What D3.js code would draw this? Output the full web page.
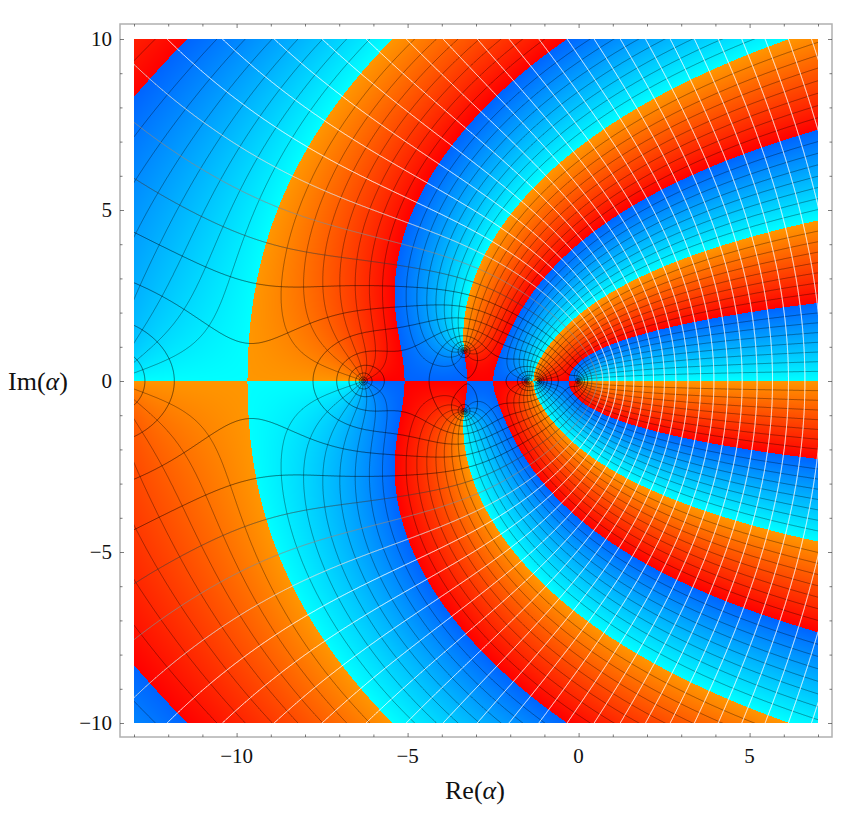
<!DOCTYPE html>
<html><head><meta charset="utf-8">
<script src="https://cdn.jsdelivr.net/npm/d3@7"></script>
<style>html,body{margin:0;background:#fff}svg{display:block}text{font-family:"Liberation Serif",serif;fill:#111}</style>
</head><body><svg id="c" width="850" height="815"></svg>
<script>
// Zeros of f(a) = base^a * prod(a - z)
const zeroRe = [0, -1.17, -1.5, -3.35, -3.35, -6.3, -13.6];
const zeroIm = [0, 0, 0, 0.9, -0.9, 0, 0];
const base = [2];
const xDomain = [-13, 7];
const yDomain = [-10, 10];
const majorTicksX = [-10, -5, 0, 5];
const minorTicksX = [-13,-12,-11,-9,-8,-7,-6,-4,-3,-2,-1,1,2,3,4,6,7];
const majorTicksY = [-10, -5, 0, 5, 10];
const minorTicksY = [-9,-8,-7,-6,-4,-3,-2,-1,1,2,3,4,6,7,8,9];
const phaseColors = ["#00ffff", "#0064ff", "#ff0000", "#ff9600"];
const argSteps = [8];                 // phase lines per half turn
const modulusLevels = d3.range(-8, 42); // log2|f| levels
const levelGray = [[10, "#000", .6, .85], [11, "#3c3c3c", .75, .85], [12, "#8a8a8a", .9, .9], [13, "#dedede", .95, 1], [99, "#fff", .95, 1]];

const x = d3.scaleLinear(xDomain, [134, 818]);
const y = d3.scaleLinear(yDomain, [723, 39]);
const svg = d3.select("#c");
const TAU = 2 * Math.PI, lnB = Math.log(base[0]);

const argAt = (a, b) => { let t = lnB * b; for (let k = 0; k < zeroRe.length; k++) t += Math.atan2(b - zeroIm[k], a - zeroRe[k]); return t; };
const logAt = (a, b) => { let t = a; for (let k = 0; k < zeroRe.length; k++) { const u = a - zeroRe[k], v = b - zeroIm[k]; t += 0.5 * Math.log2(u * u + v * v + 1e-12); } return t; };

// Phase colouring
const upper = d3.scaleLinear([0, Math.PI], [phaseColors[0], phaseColors[1]]);
const lower = d3.scaleLinear([Math.PI, TAU], [phaseColors[2], phaseColors[3]]);
const LUTN = 2048;
const lut = d3.range(LUTN).map(i => { const t = (i + .5) / LUTN * TAU; return d3.rgb(t < Math.PI ? upper(t) : lower(t)); });
const PW = 684, PH = 684;
const cv = document.createElement("canvas"); cv.width = PW; cv.height = PH;
const ctx = cv.getContext("2d"), img = ctx.createImageData(PW, PH);
for (let j = 0, p = 0; j < PH; j++) {
  const b = y.invert(39 + j + .5);
  for (let i = 0; i < PW; i++, p += 4) {
    const a = x.invert(134 + i + .5);
    let t = argAt(a, b) % TAU; if (t < 0) t += TAU;
    const c = lut[Math.min(LUTN - 1, Math.floor(t / TAU * LUTN))];
    img.data[p] = c.r; img.data[p + 1] = c.g; img.data[p + 2] = c.b; img.data[p + 3] = 255;
  }
}
ctx.putImageData(img, 0, 0);
svg.append("image").attr("x", 134).attr("y", 39).attr("width", PW).attr("height", PH).attr("href", cv.toDataURL());

// Contour grids
const pad = 3, ox = 134 - pad, oy = 39 - pad, GW = PW + 2 * pad, GH = PH + 2 * pad;
const gArg = new Float64Array(GW * GH), gLog = new Float64Array(GW * GH);
for (let j = 0, p = 0; j < GH; j++) {
  const b = y.invert(oy + j + .5);
  for (let i = 0; i < GW; i++, p++) {
    const a = x.invert(ox + i + .5);
    gArg[p] = Math.sin(argSteps[0] * argAt(a, b));
    gLog[p] = Math.max(logAt(a, b), -13);
  }
}
const contours = d3.contours().size([GW, GH]);
svg.append("defs").append("clipPath").attr("id", "pl").append("rect").attr("x", 134).attr("y", 39).attr("width", PW).attr("height", PH);
const lines = svg.append("g").attr("clip-path", "url(#pl)").attr("fill", "none");

// Phase lines, leaving out those on the colour jumps
const keepPhase = (sx, sy) => {
  const t = argAt(x.invert(sx), y.invert(sy)) % Math.PI;
  const m = t < 0 ? t + Math.PI : t;
  return Math.min(m, Math.PI - m) > Math.PI / 16;
};
let dArg = "";
contours.thresholds([0])(gArg).forEach(g => g.coordinates.forEach(poly => poly.forEach(ring => {
  let pen = false;
  for (let i = 1; i < ring.length; i++) {
    const x0 = ox + ring[i - 1][0], y0 = oy + ring[i - 1][1], x1 = ox + ring[i][0], y1 = oy + ring[i][1];
    if (keepPhase((x0 + x1) / 2, (y0 + y1) / 2)) {
      if (!pen) { dArg += "M" + x0.toFixed(1) + "," + y0.toFixed(1); pen = true; }
      dArg += "L" + x1.toFixed(1) + "," + y1.toFixed(1);
    } else pen = false;
  }
})));
lines.append("path").attr("d", dArg).attr("stroke", "#000").attr("stroke-opacity", .45).attr("stroke-width", .8);

// Modulus lines
contours.thresholds(modulusLevels)(gLog).forEach(g => {
  const st = levelGray.find(s => g.value <= s[0]);
  let d = "";
  g.coordinates.forEach(poly => poly.forEach(ring => {
    d += "M" + ring.map(q => (ox + q[0]).toFixed(1) + "," + (oy + q[1]).toFixed(1)).join("L");
  }));
  if (d) lines.append("path").attr("d", d).attr("stroke", st[1]).attr("stroke-opacity", st[2]).attr("stroke-width", st[3]);
});

// Frame and axes
const fL = 120, fR = 832, fT = 24, fB = 737;
svg.append("rect").attr("x", fL).attr("y", fT).attr("width", fR - fL).attr("height", fB - fT)
  .attr("fill", "none").attr("stroke", "#b0b0b0").attr("stroke-width", 1.5);
const fmt = v => (v < 0 ? "\u2212" + (-v) : "" + v);
const addAxis = (gen, tx, ty, vals, size) => {
  const g = svg.append("g").attr("transform", `translate(${tx},${ty})`)
    .call(gen.tickValues(vals).tickSize(size).tickFormat(""));
  g.select(".domain").remove();
  g.selectAll("line").attr("stroke", "#444").attr("stroke-width", .7);
  return g;
};
addAxis(d3.axisBottom(x), 0, fB, majorTicksX, -4);
addAxis(d3.axisBottom(x), 0, fB, minorTicksX, -2.5);
addAxis(d3.axisTop(x), 0, fT, majorTicksX, -4);
addAxis(d3.axisTop(x), 0, fT, minorTicksX, -2.5);
addAxis(d3.axisLeft(y), fL, 0, majorTicksY, -4);
addAxis(d3.axisLeft(y), fL, 0, minorTicksY, -2.5);
addAxis(d3.axisRight(y), fR, 0, majorTicksY, -4);
addAxis(d3.axisRight(y), fR, 0, minorTicksY, -2.5);
majorTicksX.forEach(v => svg.append("text").attr("x", x(v)).attr("y", 763).attr("text-anchor", "middle").style("font-size", "21px").text(fmt(v)));
majorTicksY.forEach(v => svg.append("text").attr("x", 112).attr("y", y(v) + 7).attr("text-anchor", "end").style("font-size", "21px").text(fmt(v)));

const lab = (tx, ty, s) => {
  const t = svg.append("text").attr("x", tx).attr("y", ty).style("font-size", "26px");
  t.append("tspan").text(s + "(");
  t.append("tspan").style("font-style", "italic").text("\u03b1");
  t.append("tspan").text(")");
};
lab(445, 799, "Re");
lab(8, 390, "Im");
</script></body></html>
